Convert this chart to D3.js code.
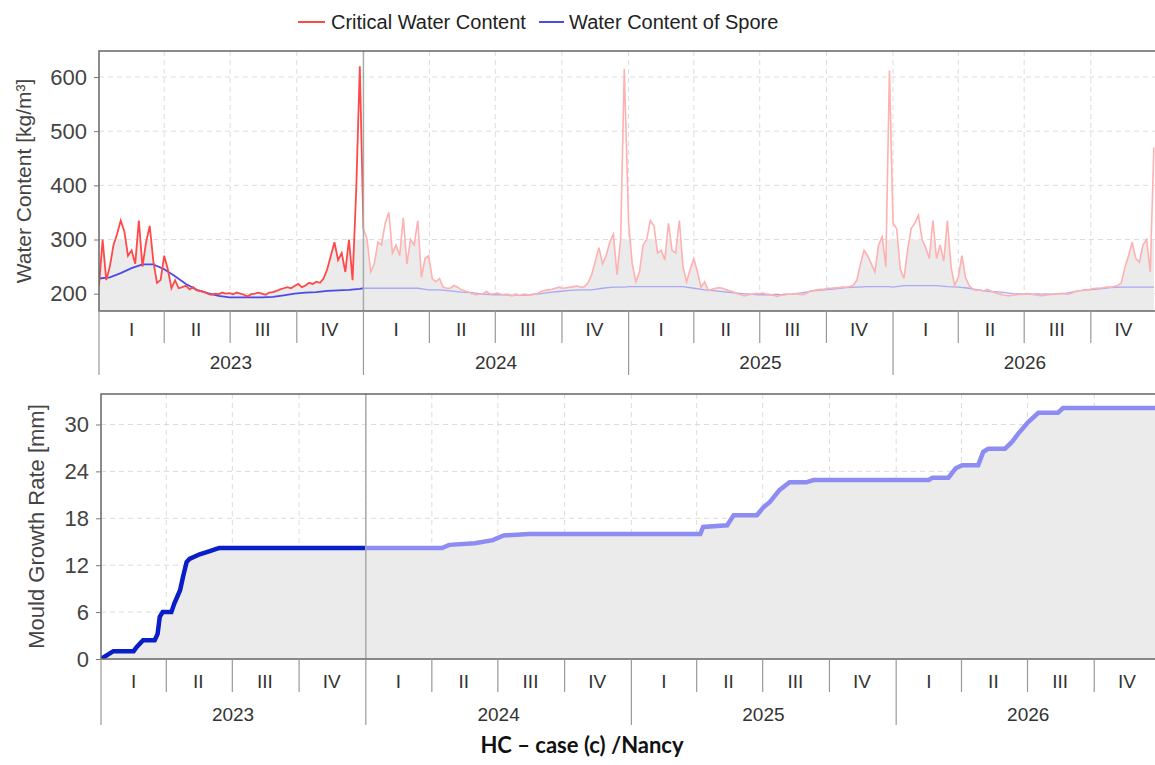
<!DOCTYPE html>
<html>
<head>
<meta charset="utf-8">
<script src="https://cdn.jsdelivr.net/npm/d3@7"></script>
<style>
  body { margin: 0; background: #fff; }
  svg { display: block; font-family: "Liberation Sans", Arial, sans-serif; }
  .tick text { fill: #444; }
</style>
</head>
<body>
<div id="chart"></div>
<script>
// Critical water content, one value every 5 days from Jan 1 of each year
var crit2023 = [215, 300, 225, 250, 290, 310, 335, 315, 270, 280, 255, 335, 250, 295, 325, 260, 220, 225, 270, 245,
  210, 225, 210, 212, 215, 208, 212, 206, 205, 203, 200, 198, 200, 199, 202, 200, 201, 199, 202, 200,
  198, 195, 199, 200, 202, 200, 198, 202, 203, 205, 208, 210, 212, 210, 214, 218, 212, 215, 220, 218,
  222, 220, 228, 245, 270, 295, 262, 275, 240, 300, 225, 390, 620];
var crit2024 = [320, 300, 240, 255, 295, 290, 330, 350, 275, 290, 270, 340, 255, 300, 290, 335, 230, 265, 270, 228,
  222, 228, 212, 210, 210, 215, 212, 207, 205, 203, 200, 198, 199, 200, 204, 199, 200, 201, 199, 198,
  197, 196, 198, 197, 198, 198, 198, 199, 200, 204, 206, 207, 208, 210, 212, 210, 211, 212, 213, 214,
  212, 213, 220, 235, 260, 285, 255, 270, 295, 310, 235, 300, 615];
var crit2025 = [330, 255, 222, 240, 290, 300, 335, 325, 275, 280, 262, 330, 280, 275, 335, 250, 222, 245, 265, 240,
  212, 222, 206, 208, 210, 211, 210, 207, 205, 203, 200, 198, 196, 198, 199, 200, 200, 201, 199, 198,
  197, 195, 197, 198, 199, 199, 200, 199, 198, 200, 205, 206, 207, 208, 208, 210, 210, 211, 211, 212,
  212, 213, 215, 225, 255, 280, 270, 255, 240, 290, 305, 250, 612];
var crit2026 = [330, 320, 245, 228, 280, 320, 330, 345, 300, 285, 265, 335, 265, 290, 260, 335, 250, 215, 230, 270,
  230, 215, 208, 206, 207, 205, 208, 205, 202, 200, 198, 197, 196, 197, 198, 199, 199, 200, 199, 198,
  197, 196, 197, 198, 199, 199, 200, 200, 199, 200, 203, 205, 206, 207, 207, 209, 210, 210, 211, 212,
  212, 213, 215, 220, 248, 270, 295, 265, 258, 290, 300, 240, 470];

// Water content of spore, one value every 15 days
var spore2023 = [228, 230, 238, 247, 254, 254, 245, 232, 218, 207, 201, 196, 193, 193, 193, 193, 194, 197, 200, 202, 203, 205, 206, 207, 209];
var spore2024 = [210, 210, 210, 210, 210, 210, 207, 207, 205, 203, 202, 199, 198, 198, 197, 197, 199, 202, 204, 206, 207, 207, 210, 212, 212];
var spore2025 = [213, 213, 213, 213, 213, 213, 210, 207, 205, 203, 201, 199, 198, 198, 198, 199, 202, 205, 207, 209, 211, 212, 213, 213, 213];
var spore2026 = [212, 215, 215, 215, 215, 213, 212, 210, 206, 204, 203, 200, 199, 199, 199, 199, 201, 205, 207, 209, 211, 212, 212, 212, 212];

// Mould growth: day since 2023-01-01 and value [mm]
var mouldDays = [0, 17, 45, 49, 58, 74, 78, 81, 85, 97, 101, 109, 113, 118, 122, 136, 150, 159, 163,
  470, 480, 515, 540, 555, 590, 826, 830, 863, 872, 904, 913, 922, 935, 949, 972, 982,
  1141, 1146, 1168, 1178, 1187, 1209, 1216, 1223, 1246, 1256, 1264, 1278, 1292, 1319, 1326, 1460];
var mouldValues = [0, 1.0, 1.0, 1.5, 2.4, 2.4, 3.2, 5.4, 6.0, 6.0, 7.1, 8.8, 10.5, 12.4, 12.8, 13.4, 13.8, 14.1, 14.2,
  14.2, 14.6, 14.8, 15.2, 15.8, 16.0, 16.0, 16.9, 17.1, 18.4, 18.4, 19.4, 20.1, 21.6, 22.6, 22.6, 22.9,
  22.9, 23.2, 23.2, 24.4, 24.8, 24.8, 26.5, 26.9, 26.9, 27.8, 28.8, 30.3, 31.5, 31.5, 32.1, 32.1];

var years = [2023, 2024, 2025, 2026];
var quarterLabels = ["I", "II", "III", "IV"];
var waterTicks = [200, 300, 400, 500, 600];
var mouldTicks = [0, 6, 12, 18, 24, 30];

var critByYear = [crit2023, crit2024, crit2025, crit2026];
var sporeByYear = [spore2023, spore2024, spore2025, spore2026];

var critData = [], sporeData = [];
years.forEach(function(y, k) {
  critByYear[k].forEach(function(v, i) { critData.push({date: new Date(y, 0, 1 + 5 * i), v: v}); });
  sporeByYear[k].forEach(function(v, i) { sporeData.push({date: new Date(y, 0, 1 + 15 * i), v: v}); });
});
var start = new Date(2023, 0, 1);
var mouldData = mouldDays.map(function(d, i) { return {date: d3.timeDay.offset(start, d), v: mouldValues[i]}; });

var W = 1155, H = 765;
var svg = d3.select('#chart').append('svg').attr('width', W).attr('height', H);
var split = new Date(2024, 0, 1);
var end = new Date(2027, 0, 1);

function drawPanel(opt) {
  var x = d3.scaleTime().domain([start, end]).range([opt.left, opt.right]);
  var y = d3.scaleLinear().domain(opt.yDomain).range([opt.bottom, opt.top]);
  var g = svg.append('g');
  var id = opt.id;

  var defs = g.append('defs');
  defs.append('clipPath').attr('id', id + 'plot').append('rect')
    .attr('x', opt.left).attr('y', opt.top).attr('width', W - opt.left).attr('height', opt.bottom - opt.top);
  defs.append('clipPath').attr('id', id + 'past').append('rect')
    .attr('x', opt.left).attr('y', opt.top).attr('width', x(split) - opt.left).attr('height', opt.bottom - opt.top);
  defs.append('clipPath').attr('id', id + 'future').append('rect')
    .attr('x', x(split)).attr('y', opt.top).attr('width', W - x(split)).attr('height', opt.bottom - opt.top);

  // quarter boundaries
  var quarters = d3.timeMonth.every(3).range(start, end);

  // grid
  g.append('g').selectAll('line.hg').data(opt.ticks).enter().append('line')
    .attr('x1', opt.left).attr('x2', W).attr('y1', function(d) { return y(d); }).attr('y2', function(d) { return y(d); })
    .attr('stroke', '#dcdcdc').attr('stroke-dasharray', '5,4');
  g.append('g').selectAll('line.vg').data(quarters.slice(1)).enter().append('line')
    .attr('x1', function(d) { return x(d); }).attr('x2', function(d) { return x(d); })
    .attr('y1', opt.top).attr('y2', opt.bottom)
    .attr('stroke', '#dcdcdc').attr('stroke-dasharray', '5,4');

  opt.draw(g, x, y, id);

  // current-year separator
  g.append('line').attr('x1', x(split)).attr('x2', x(split)).attr('y1', opt.top).attr('y2', opt.bottom)
    .attr('stroke', '#aaa').attr('stroke-width', 1.5);

  // frame
  g.append('rect').attr('x', opt.left).attr('y', opt.top).attr('width', opt.right - opt.left + 10).attr('height', opt.bottom - opt.top)
    .attr('fill', 'none').attr('stroke', '#666').attr('stroke-width', 1.5);

  // y axis
  var ya = g.append('g').attr('transform', 'translate(' + opt.left + ',0)')
    .call(d3.axisLeft(y).tickValues(opt.ticks).tickSize(5).tickPadding(7));
  ya.select('.domain').remove();
  ya.selectAll('.tick line').attr('stroke', '#777');
  ya.selectAll('.tick text').attr('font-size', 22).attr('fill', '#444');

  g.append('text').attr('transform', 'translate(' + opt.titleX + ',' + ((opt.top + opt.bottom) / 2) + ') rotate(-90)')
    .attr('text-anchor', 'middle').attr('font-size', opt.titleSize).attr('fill', '#444').text(opt.title);

  // x axis: quarters and years
  var ax = g.append('g');
  ax.selectAll('line.q').data(quarters.concat([end])).enter().append('line')
    .attr('x1', function(d) { return x(d); }).attr('x2', function(d) { return x(d); })
    .attr('y1', opt.bottom).attr('y2', function(d) { return d.getMonth() === 0 ? opt.bottom + opt.yearLine : opt.bottom + opt.qLine; })
    .attr('stroke', '#999').attr('stroke-width', 1.2);
  ax.selectAll('text.q').data(quarters).enter().append('text')
    .attr('x', function(d) { return x(new Date(d.getFullYear(), d.getMonth() + 1, 15)); })
    .attr('y', opt.bottom + opt.qText)
    .attr('text-anchor', 'middle').attr('font-size', 19).attr('fill', '#333')
    .text(function(d) { return quarterLabels[d.getMonth() / 3]; });
  ax.selectAll('text.y').data(years).enter().append('text')
    .attr('x', function(d) { return x(new Date(d, 6, 2)); })
    .attr('y', opt.bottom + opt.yText)
    .attr('text-anchor', 'middle').attr('font-size', 19).attr('fill', '#333')
    .text(function(d) { return d; });
}

// top panel: water content
drawPanel({
  id: 'w', left: 99, right: 1157.5, top: 51, bottom: 311, yDomain: [168, 648],
  ticks: waterTicks, title: 'Water Content [kg/m³]', titleX: 31, titleSize: 21,
  qLine: 32, yearLine: 64, qText: 25, yText: 58,
  draw: function(g, x, y, id) {
    var area = d3.area().x(function(d) { return x(d.date); }).y0(y(168)).y1(function(d) { return y(d.v); });
    g.append('defs').append('clipPath').attr('id', id + 'fill').append('rect')
      .attr('x', 99).attr('y', y(300)).attr('width', W).attr('height', 311 - y(300));
    g.append('path').datum(critData).attr('d', area).attr('fill', '#ebebeb').attr('clip-path', 'url(#' + id + 'fill)');
    var line = d3.line().x(function(d) { return x(d.date); }).y(function(d) { return y(d.v); });
    var plot = g.append('g').attr('clip-path', 'url(#' + id + 'plot)');
    plot.append('path').datum(sporeData).attr('d', line).attr('fill', 'none').attr('stroke', '#a9a9f5').attr('stroke-width', 1.3)
      .attr('clip-path', 'url(#' + id + 'future)');
    plot.append('path').datum(critData).attr('d', line).attr('fill', 'none').attr('stroke', '#ffb0b0').attr('stroke-width', 1.6)
      .attr('clip-path', 'url(#' + id + 'future)');
    plot.append('path').datum(sporeData).attr('d', line).attr('fill', 'none').attr('stroke', '#4a4ae8').attr('stroke-width', 1.8)
      .attr('clip-path', 'url(#' + id + 'past)');
    plot.append('path').datum(critData).attr('d', line).attr('fill', 'none').attr('stroke', '#ff4848').attr('stroke-width', 1.8)
      .attr('clip-path', 'url(#' + id + 'past)');
  }
});

// bottom panel: mould growth
drawPanel({
  id: 'm', left: 101, right: 1161, top: 394, bottom: 659, yDomain: [0, 33.9],
  ticks: mouldTicks, title: 'Mould Growth Rate [mm]', titleX: 44, titleSize: 22,
  qLine: 33, yearLine: 66, qText: 29, yText: 62,
  draw: function(g, x, y, id) {
    var area = d3.area().x(function(d) { return x(d.date); }).y0(y(0)).y1(function(d) { return y(d.v); });
    g.append('path').datum(mouldData).attr('d', area).attr('fill', '#ebebeb').attr('clip-path', 'url(#' + id + 'plot)');
    var line = d3.line().x(function(d) { return x(d.date); }).y(function(d) { return y(d.v); });
    g.append('path').datum(mouldData).attr('d', line).attr('fill', 'none').attr('stroke', '#8c8cf2').attr('stroke-width', 4.5)
      .attr('clip-path', 'url(#' + id + 'future)');
    g.append('path').datum(mouldData).attr('d', line).attr('fill', 'none').attr('stroke', '#0a1ec8').attr('stroke-width', 4.5)
      .attr('clip-path', 'url(#' + id + 'past)');
  }
});

// legend
var legend = svg.append('g').attr('font-size', 20).attr('fill', '#222');
legend.append('line').attr('x1', 298).attr('x2', 325).attr('y1', 22).attr('y2', 22).attr('stroke', '#ff4848').attr('stroke-width', 2);
legend.append('text').attr('x', 331).attr('y', 29).text('Critical Water Content');
legend.append('line').attr('x1', 539).attr('x2', 564).attr('y1', 22).attr('y2', 22).attr('stroke', '#4a4ae8').attr('stroke-width', 2);
legend.append('text').attr('x', 569).attr('y', 29).text('Water Content of Spore');

// caption
svg.append('text').attr('x', 582).attr('y', 753).attr('text-anchor', 'middle')
  .attr('font-family', 'Lato, "Open Sans", sans-serif').attr('font-weight', 'bold').attr('font-size', 22).attr('fill', '#111')
  .text('HC – case (c) /Nancy');
</script>
</body>
</html>
